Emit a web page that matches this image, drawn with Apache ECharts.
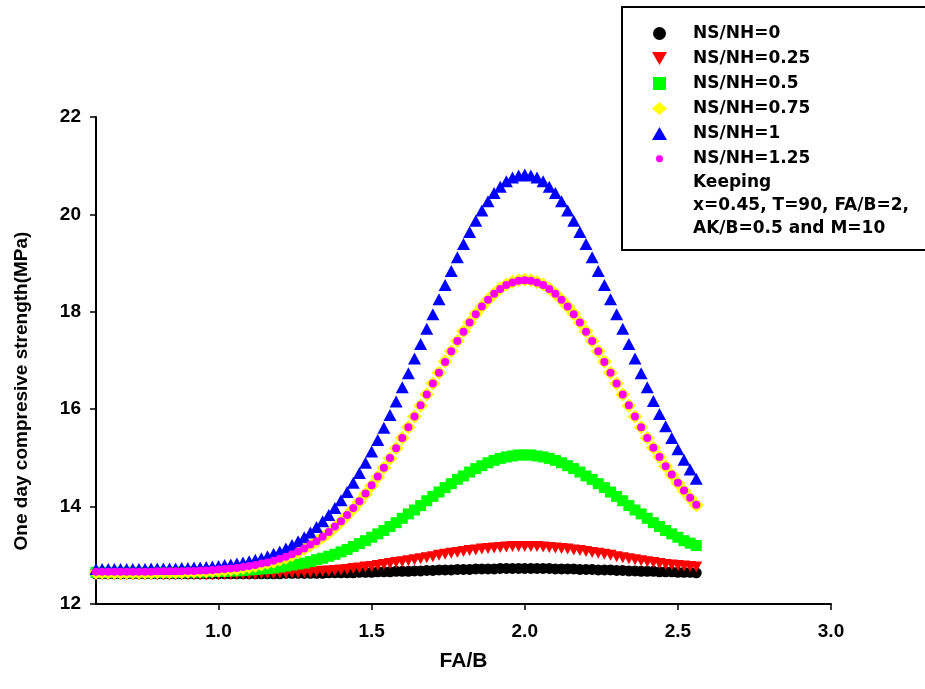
<!DOCTYPE html>
<html>
<head>
<meta charset="utf-8">
<script src="https://cdn.jsdelivr.net/npm/echarts@6/dist/echarts.min.js"></script>
<style>
  html, body { margin: 0; padding: 0; background: #fff; }
  #chart { width: 925px; height: 689px; }
</style>
</head>
<body>
<div id="chart"></div>
<script>
// FA/B ratio (x axis)
const faB = [
  0.60,0.62,0.64,0.66,0.68,0.70,0.72,0.74,0.76,0.78,
  0.80,0.82,0.84,0.86,0.88,0.90,0.92,0.94,0.96,0.98,
  1.00,1.02,1.04,1.06,1.08,1.10,1.12,1.14,1.16,1.18,
  1.20,1.22,1.24,1.26,1.28,1.30,1.32,1.34,1.36,1.38,
  1.40,1.42,1.44,1.46,1.48,1.50,1.52,1.54,1.56,1.58,
  1.60,1.62,1.64,1.66,1.68,1.70,1.72,1.74,1.76,1.78,
  1.80,1.82,1.84,1.86,1.88,1.90,1.92,1.94,1.96,1.98,
  2.00,2.02,2.04,2.06,2.08,2.10,2.12,2.14,2.16,2.18,
  2.20,2.22,2.24,2.26,2.28,2.30,2.32,2.34,2.36,2.38,
  2.40,2.42,2.44,2.46,2.48,2.50,2.52,2.54,2.56
];

// One day compressive strength (MPa) for each NS/NH ratio
const nsnh0 = [
  12.62,12.62,12.62,12.62,12.62,12.62,12.62,12.62,12.62,12.62,
  12.62,12.62,12.62,12.62,12.62,12.62,12.62,12.62,12.62,12.62,
  12.62,12.62,12.62,12.62,12.62,12.62,12.62,12.62,12.62,12.62,
  12.62,12.63,12.63,12.63,12.63,12.63,12.63,12.63,12.64,12.64,
  12.64,12.64,12.64,12.65,12.65,12.65,12.66,12.66,12.66,12.67,
  12.67,12.67,12.68,12.68,12.69,12.69,12.70,12.70,12.70,12.71,
  12.71,12.71,12.72,12.72,12.72,12.72,12.73,12.73,12.73,12.73,
  12.73,12.73,12.73,12.73,12.73,12.72,12.72,12.72,12.72,12.71,
  12.71,12.71,12.70,12.70,12.70,12.69,12.69,12.68,12.68,12.67,
  12.67,12.67,12.66,12.66,12.66,12.65,12.65,12.65,12.64
];
const nsnh025 = [
  12.60,12.60,12.60,12.60,12.60,12.60,12.60,12.60,12.60,12.60,
  12.60,12.60,12.60,12.60,12.60,12.60,12.60,12.60,12.60,12.60,
  12.60,12.61,12.61,12.61,12.61,12.61,12.61,12.62,12.62,12.62,
  12.63,12.63,12.64,12.64,12.65,12.65,12.66,12.67,12.68,12.69,
  12.70,12.71,12.73,12.74,12.76,12.77,12.79,12.81,12.83,12.85,
  12.87,12.89,12.91,12.93,12.95,12.97,13.00,13.02,13.04,13.06,
  13.08,13.10,13.11,13.13,13.14,13.15,13.16,13.17,13.18,13.18,
  13.18,13.18,13.18,13.17,13.16,13.15,13.14,13.13,13.11,13.10,
  13.08,13.06,13.04,13.02,13.00,12.97,12.95,12.93,12.91,12.89,
  12.87,12.85,12.83,12.81,12.80,12.79,12.78,12.77,12.76
];
const nsnh05 = [
  12.65,12.65,12.65,12.65,12.65,12.65,12.65,12.65,12.65,12.65,
  12.65,12.65,12.65,12.65,12.66,12.66,12.66,12.66,12.66,12.67,
  12.67,12.67,12.68,12.68,12.69,12.70,12.71,12.72,12.73,12.74,
  12.76,12.78,12.80,12.82,12.84,12.87,12.91,12.94,12.98,13.02,
  13.07,13.12,13.18,13.24,13.30,13.37,13.44,13.51,13.59,13.67,
  13.76,13.85,13.93,14.02,14.12,14.21,14.30,14.39,14.47,14.56,
  14.63,14.71,14.78,14.84,14.90,14.95,14.99,15.02,15.04,15.06,
  15.06,15.06,15.04,15.02,14.99,14.95,14.90,14.84,14.78,14.71,
  14.63,14.56,14.47,14.39,14.30,14.21,14.12,14.02,13.93,13.85,
  13.76,13.67,13.59,13.51,13.44,13.37,13.30,13.25,13.20
];
const nsnh075 = [
  12.64,12.64,12.64,12.64,12.64,12.64,12.64,12.64,12.64,12.64,
  12.65,12.65,12.65,12.65,12.65,12.66,12.66,12.67,12.67,12.68,
  12.69,12.70,12.71,12.72,12.74,12.76,12.78,12.81,12.84,12.87,
  12.91,12.95,13.00,13.06,13.13,13.20,13.28,13.37,13.46,13.57,
  13.69,13.82,13.95,14.10,14.26,14.43,14.61,14.80,14.99,15.20,
  15.41,15.63,15.85,16.07,16.30,16.53,16.75,16.98,17.19,17.40,
  17.60,17.78,17.96,18.11,18.25,18.37,18.48,18.56,18.61,18.65,
  18.66,18.65,18.61,18.56,18.48,18.37,18.25,18.11,17.96,17.78,
  17.60,17.40,17.19,16.98,16.75,16.53,16.30,16.07,15.85,15.63,
  15.41,15.21,15.02,14.83,14.65,14.48,14.32,14.17,14.03
];
const nsnh1 = [
  12.72,12.72,12.72,12.72,12.72,12.72,12.72,12.72,12.72,12.73,
  12.73,12.73,12.73,12.73,12.74,12.74,12.75,12.75,12.76,12.77,
  12.78,12.80,12.81,12.83,12.85,12.88,12.91,12.94,12.98,13.03,
  13.08,13.14,13.21,13.29,13.37,13.47,13.58,13.70,13.83,13.97,
  14.13,14.30,14.49,14.69,14.90,15.13,15.37,15.62,15.88,16.16,
  16.45,16.74,17.04,17.34,17.65,17.95,18.26,18.55,18.84,19.12,
  19.39,19.64,19.87,20.08,20.27,20.44,20.57,20.68,20.76,20.80,
  20.82,20.80,20.76,20.68,20.57,20.44,20.27,20.08,19.87,19.64,
  19.39,19.12,18.84,18.55,18.26,17.95,17.65,17.34,17.04,16.74,
  16.45,16.17,15.90,15.65,15.41,15.18,14.96,14.76,14.57
];
const nsnh125 = [
  12.66,12.66,12.66,12.66,12.66,12.66,12.66,12.66,12.66,12.66,
  12.67,12.67,12.67,12.67,12.67,12.68,12.68,12.69,12.69,12.70,
  12.71,12.72,12.73,12.74,12.76,12.78,12.80,12.83,12.85,12.89,
  12.93,12.97,13.02,13.08,13.14,13.22,13.29,13.38,13.48,13.59,
  13.70,13.83,13.97,14.11,14.27,14.44,14.62,14.80,15.00,15.20,
  15.41,15.63,15.85,16.08,16.30,16.53,16.75,16.97,17.19,17.40,
  17.59,17.78,17.95,18.11,18.25,18.37,18.47,18.55,18.60,18.64,
  18.65,18.64,18.60,18.55,18.47,18.37,18.25,18.11,17.95,17.78,
  17.59,17.40,17.19,16.97,16.75,16.53,16.30,16.08,15.85,15.63,
  15.41,15.21,15.02,14.83,14.66,14.49,14.33,14.18,14.04
];

const seriesNames = ['NS/NH=0', 'NS/NH=0.25', 'NS/NH=0.5', 'NS/NH=0.75', 'NS/NH=1', 'NS/NH=1.25'];
const seriesValues = [nsnh0, nsnh025, nsnh05, nsnh075, nsnh1, nsnh125];
const xTickValues = [1.0, 1.5, 2.0, 2.5, 3.0];
const noteLines = ['Keeping', 'x=0.45, T=90, FA/B=2,', 'AK/B=0.5 and M=10'];
const yTitle = 'One day compresive strength(MPa)';
const xTitle = 'FA/B';

const sansFont = '"Liberation Sans", Arial, sans-serif';

// marker look for each series (plot marker and legend icon)
const markers = [
  { color: '#000000', symbol: 'circle',   size: 11,       rotate: 0,   icon: 'circle' },
  { color: '#ff0000', symbol: 'triangle', size: [12, 11], rotate: 180, icon: 'path://M0,0L10,0L5,8.66Z' },
  { color: '#00ff00', symbol: 'rect',     size: 11,       rotate: 0,   icon: 'path://M0,0H10V10H0Z' },
  { color: '#ffff00', symbol: 'diamond',  size: [15, 14], rotate: 0,   icon: 'diamond' },
  { color: '#0000ff', symbol: 'triangle', size: [13, 12], rotate: 0,   icon: 'triangle' },
  { color: '#ff00ff', symbol: 'circle',   size: 8,        rotate: 0,
    icon: 'path://M0,0L0.01,0M13,13L13.01,13M10,6.5A3.5,3.5,0,1,1,9.99,6.4Z' }
];

const series = seriesNames.map((name, i) => ({
  name: name,
  type: 'scatter',
  symbol: markers[i].symbol,
  symbolSize: markers[i].size,
  symbolRotate: markers[i].rotate,
  itemStyle: { color: markers[i].color, opacity: 1, borderWidth: 0 },
  emphasis: { disabled: true },
  data: faB.map((x, j) => [x, seriesValues[i][j]])
}));

const chart = echarts.init(document.getElementById('chart'), null, { renderer: 'canvas' });

chart.setOption({
  animation: false,
  backgroundColor: '#ffffff',
  grid: { left: 96, right: 94, top: 117, bottom: 85, containLabel: false },
  xAxis: {
    type: 'value',
    min: 0.6,
    max: 3.0,
    name: xTitle,
    nameLocation: 'middle',
    nameGap: 47,
    nameTextStyle: { fontFamily: sansFont, fontWeight: 'bold', fontSize: 21, color: '#000' },
    axisLine: { show: true, onZero: false, lineStyle: { color: '#000', width: 2 } },
    axisTick: { show: true, customValues: xTickValues, length: 6, lineStyle: { color: '#000', width: 1.5 } },
    axisLabel: {
      customValues: xTickValues,
      formatter: v => v.toFixed(1),
      color: '#000',
      fontFamily: sansFont,
      fontWeight: 'bold',
      fontSize: 19,
      margin: 18
    },
    splitLine: { show: false }
  },
  yAxis: {
    type: 'value',
    min: 12,
    max: 22,
    interval: 2,
    axisLine: { show: true, onZero: false, lineStyle: { color: '#000', width: 2 } },
    axisTick: { show: true, length: 6, lineStyle: { color: '#000', width: 1.5 } },
    axisLabel: {
      color: '#000',
      fontFamily: sansFont,
      fontWeight: 'bold',
      fontSize: 19,
      margin: 15
    },
    splitLine: { show: false }
  },
  legend: {
    orient: 'vertical',
    left: 652,
    top: 25,
    padding: 0,
    itemWidth: 15,
    itemHeight: 13,
    itemGap: 8,
    selectedMode: false,
    textStyle: {
      fontFamily: '"DejaVu Sans", sans-serif',
      fontWeight: 'bold',
      fontSize: 17,
      lineHeight: 17,
      color: '#000',
      padding: [0, 0, 0, 21]
    },
    data: seriesNames.map((n, i) => ({ name: n, icon: markers[i].icon }))
  },
  graphic: [
    {
      type: 'rect',
      z: 0,
      shape: { x: 622, y: 7, width: 330, height: 243 },
      style: { fill: '#ffffff', stroke: '#000000', lineWidth: 2 }
    },
    {
      type: 'text',
      z: 5,
      x: 693,
      y: 171,
      style: {
        text: noteLines.join('\n'),
        font: 'bold 17px "DejaVu Sans"',
        lineHeight: 23,
        fill: '#000',
        verticalAlign: 'top'
      }
    },
    {
      type: 'text',
      z: 5,
      x: 22,
      y: 391,
      rotation: Math.PI / 2,
      style: {
        text: yTitle,
        font: 'bold 19px "Liberation Sans"',
        fill: '#000',
        align: 'center',
        verticalAlign: 'middle'
      }
    }
  ],
  series: series
});
</script>
</body>
</html>
